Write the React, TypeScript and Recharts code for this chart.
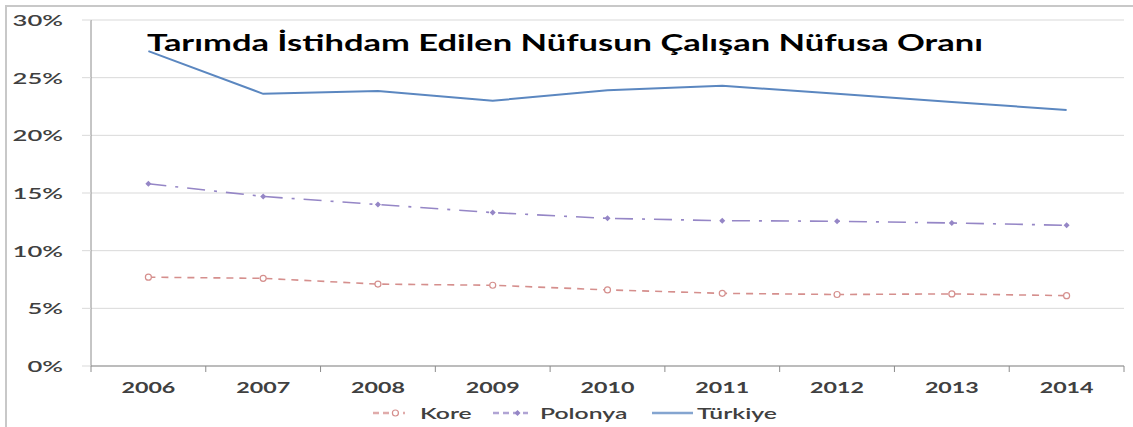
import React from "react";
import {
  LineChart,
  Line,
  XAxis,
  YAxis,
  CartesianGrid,
  Legend,
} from "recharts";

const YEARS = ["2006", "2007", "2008", "2009", "2010", "2011", "2012", "2013", "2014"];
const KORE = [7.7, 7.6, 7.1, 7.0, 6.6, 6.3, 6.2, 6.25, 6.1];
const POLONYA = [15.8, 14.7, 14.0, 13.3, 12.8, 12.6, 12.55, 12.4, 12.2];
const TURKIYE = [27.3, 23.6, 23.85, 23.0, 23.9, 24.3, 23.6, 22.9, 22.2];
const Y_TICKS = [0, 5, 10, 15, 20, 25, 30];

const TITLE = "Tarımda İstihdam Edilen Nüfusun Çalışan Nüfusa Oranı";

const data = YEARS.map((year, i) => ({
  year,
  Kore: KORE[i],
  Polonya: POLONYA[i],
  Türkiye: TURKIYE[i],
}));

const W = 1133;
const H = 427;
const MARGIN = { top: 20, right: 9, left: 0, bottom: 0 };
const Y_AXIS_W = 91;
const PLOT_W = W - MARGIN.left - MARGIN.right - Y_AXIS_W;
const BAND = PLOT_W / YEARS.length;

const FONT = "Lato, 'Open Sans', sans-serif";
const STRETCH = 1.55;
const TEXT = "#404040";
const AXIS = "#8c8c8c";
const GRID = "#d9d9d9";

const SERIES = [
  { key: "Kore", color: "#d58f8d", width: 1.6, dash: "7 6", dot: "circle", lx: 373, lw: 32, tx: 420 },
  { key: "Polonya", color: "#9586c6", width: 1.6, dash: "18 9 3 9", dot: "diamond", lx: 493, lw: 35, tx: 540 },
  { key: "Türkiye", color: "#5b87c0", width: 2, dash: undefined, dot: "none", lx: 652, lw: 41, tx: 697 },
];

function XTick(props: any) {
  const { x, y, payload, index } = props;
  const axisY = y - 8;
  const isLast = index === YEARS.length - 1;
  return (
    <g>
      <line x1={x - BAND / 2} x2={x - BAND / 2} y1={axisY} y2={axisY + 6} stroke={AXIS} />
      {isLast && (
        <line x1={x + BAND / 2} x2={x + BAND / 2} y1={axisY} y2={axisY + 6} stroke={AXIS} />
      )}
      <text
        transform={`translate(${x},${y + 19}) scale(${STRETCH},1)`}
        textAnchor="middle"
        fontFamily={FONT}
        fontWeight={700}
        fontSize={15}
        fill={TEXT}
      >
        {payload.value}
      </text>
    </g>
  );
}

function YTick(props: any) {
  const { x, y, payload } = props;
  return (
    <text
      transform={`translate(${x},${y + 6}) scale(1.6,1)`}
      textAnchor="end"
      fontFamily={FONT}
      fontWeight={600}
      fontSize={16}
      fill={TEXT}
    >
      {`${payload.value}%`}
    </text>
  );
}

function Marker({ cx, cy, kind, color }: any) {
  if (kind === "circle") {
    return <circle cx={cx} cy={cy} r={3} fill="#fff" stroke={color} strokeWidth={1.2} />;
  }
  if (kind === "diamond") {
    return (
      <path
        d={`M${cx - 3},${cy} L${cx},${cy - 3} L${cx + 3},${cy} L${cx},${cy + 3} Z`}
        fill={color}
      />
    );
  }
  return null;
}

function LegendContent() {
  return (
    <svg width={W} height={31} style={{ display: "block" }}>
      {SERIES.map((s) => (
        <g key={s.key}>
          <line
            x1={s.lx}
            x2={s.lx + s.lw}
            y1={17}
            y2={17}
            stroke={s.color}
            strokeOpacity={0.75}
            strokeWidth={2.5}
            strokeDasharray={s.dash ? "6 4" : undefined}
          />
          <Marker cx={s.lx + s.lw * 0.7} cy={17} kind={s.dot} color={s.color} />
          <text
            transform={`translate(${s.tx},23) scale(1.65,1)`}
            fontFamily={FONT}
            fontWeight={600}
            fontSize={15}
            fill={TEXT}
          >
            {s.key}
          </text>
        </g>
      ))}
    </svg>
  );
}

export default function App() {
  return (
    <div
      style={{
        position: "absolute",
        left: 0,
        top: 0,
        width: W,
        height: H,
        background: "#fff",
      }}
    >
      <div
        style={{
          position: "absolute",
          left: 5,
          top: 5,
          right: 0,
          bottom: 0,
          borderLeft: "2px solid #c8c8c8",
          borderTop: "2px solid #c8c8c8",
        }}
      />
      <LineChart width={W} height={H} data={data} margin={MARGIN}>
        <CartesianGrid vertical={false} stroke={GRID} />
        <XAxis
          dataKey="year"
          scale="band"
          height={30}
          axisLine={{ stroke: AXIS }}
          tickLine={false}
          tick={<XTick />}
          interval={0}
        />
        <YAxis
          width={Y_AXIS_W}
          domain={[0, 30]}
          ticks={Y_TICKS}
          axisLine={{ stroke: AXIS }}
          tickLine={{ stroke: GRID }}
          tickSize={9}
          tickMargin={19}
          tick={<YTick />}
        />
        <Legend
          verticalAlign="bottom"
          content={<LegendContent />}
          wrapperStyle={{ height: 31, left: 0, width: W }}
        />
        {SERIES.map((s) => (
          <Line
            key={s.key}
            dataKey={s.key}
            type="linear"
            stroke={s.color}
            strokeWidth={s.width}
            strokeDasharray={s.dash}
            dot={(p: any) => <Marker key={p.index} cx={p.cx} cy={p.cy} kind={s.dot} color={s.color} />}
            activeDot={false}
            isAnimationActive={false}
          />
        ))}
      </LineChart>
      <svg
        width={W}
        height={60}
        style={{ position: "absolute", left: 0, top: 0, pointerEvents: "none" }}
      >
        <text
          x={147}
          y={51}
          textLength={836}
          lengthAdjust="spacingAndGlyphs"
          fontFamily={FONT}
          fontWeight={700}
          fontSize={22}
          fill="#000"
        >
          {TITLE}
        </text>
      </svg>
    </div>
  );
}
